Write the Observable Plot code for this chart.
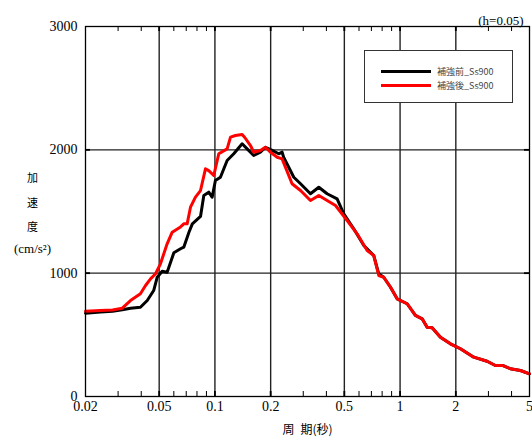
<!DOCTYPE html>
<html><head><meta charset="utf-8">
<script src="https://cdn.jsdelivr.net/npm/d3@7"></script>
<script src="https://cdn.jsdelivr.net/npm/@observablehq/plot@0.6"></script>
<style>
body{margin:0;background:#fff;}
#wrap{position:relative;width:532px;height:443px;}
#legend{position:absolute;left:364px;top:50px;width:149px;height:53px;box-sizing:border-box;border:1px solid #333;background:#fff;font-family:"Noto Sans CJK JP",sans-serif;font-size:9px;color:#444;}
.item{position:absolute;left:16px;height:12px;display:flex;align-items:center;white-space:nowrap;}
.sw{width:50px;height:3px;margin-right:6px;}
</style></head><body><div id="wrap"><div id="legend"></div></div>
<script>
const seriesNames = ["補強前_Ss900", "補強後_Ss900"];
const seriesColors = ["#000000", "#ff0000"];

const periodBefore = [0.02,0.0241,0.028,0.0316,0.035,0.0396,0.0431,0.0467,0.0488,0.0519,0.0552,0.06,0.0652,0.0679,0.0724,0.0755,0.0836,0.0871,0.0926,0.0966,0.1006,0.1071,0.1164,0.1264,0.1403,0.1493,0.162,0.176,0.1875,0.2038,0.221,0.2306,0.235,0.2667,0.29,0.328,0.364,0.4036,0.457,0.4966,0.562,0.637,0.721,0.767,0.816,0.888,0.964,1.092,1.21,1.316,1.4,1.49,1.652,1.87,2.118,2.5,2.95,3.27,3.6,3.94,4.47,5];
const accelBefore = [675,685,692,703,716,724,778,859,967,1015,1008,1165,1198,1211,1332,1400,1460,1630,1657,1616,1751,1778,1914,1968,2049,2008,1954,1981,2021,1995,1968,1981,1940,1778,1725,1644,1697,1644,1603,1481,1360,1224,1143,995,967,886,792,752,657,630,562,557,481,427,387,319,286,251,251,225,211,184];

const periodAfter = [0.02,0.0241,0.028,0.0316,0.035,0.0396,0.0422,0.0449,0.0478,0.0508,0.0552,0.0588,0.0652,0.0679,0.0708,0.0738,0.0785,0.0836,0.0889,0.0926,0.0986,0.1049,0.1164,0.1214,0.129,0.1403,0.145,0.1556,0.162,0.176,0.1875,0.1995,0.217,0.2306,0.261,0.29,0.328,0.364,0.4036,0.448,0.518,0.586,0.664,0.721,0.767,0.816,0.888,0.964,1.092,1.21,1.316,1.4,1.49,1.652,1.87,2.118,2.5,2.95,3.27,3.6,3.94,4.47,5];
const accelAfter = [692,697,702,716,778,833,900,954,995,1076,1238,1332,1375,1400,1400,1535,1616,1670,1846,1832,1792,1968,2008,2103,2116,2124,2100,2035,1981,1995,2021,1981,1940,1927,1725,1670,1589,1630,1589,1549,1427,1319,1184,1143,981,967,886,792,752,657,630,562,557,481,427,387,319,286,251,251,225,211,184];

const xTicks = [0.02,0.05,0.1,0.2,0.5,1,2,5];
const xTickLabels = ["0.02","0.05","0.1","0.2","0.5","1","2","5"];
const xMinor = [0.03,0.04,0.06,0.07,0.08,0.09,0.3,0.4,0.6,0.7,0.8,0.9,3,4];
const xGrid = [0.05,0.1,0.2,0.5,1,2];
const yTicks = [0,1000,2000,3000];
const yGrid = [1000,2000];
const xTitle = "周\u2002期(秒)";
const yTitleJa = "加\n速\n度";
const yTitleUnit = "(cm/s²)";
const note = "(h=0.05)";

const W = 532, H = 443, mL = 85, mR = 3, mT = 26, mB = 47;
const fw = W - mL - mR, fh = H - mT - mB;
const cjk = "Noto Sans CJK JP";
const serif = "Liberation Serif";

const before = periodBefore.map((p, i) => ({p, a: accelBefore[i]}));
const after = periodAfter.map((p, i) => ({p, a: accelAfter[i]}));
const xTickData = xTicks.map((v, i) => ({v, label: xTickLabels[i]}));

const chart = Plot.plot({
  width: W, height: H,
  marginLeft: mL, marginRight: mR, marginTop: mT, marginBottom: mB,
  x: {type: "log", domain: [0.02, 5], axis: null},
  y: {domain: [0, 3000]},
  style: {fontFamily: serif, fontSize: "14px", background: "#fff", color: "#000", overflow: "visible"},
  marks: [
    Plot.ruleX(xGrid, {stroke: "#222", strokeWidth: 1.4}),
    Plot.ruleY(yGrid, {stroke: "#222", strokeWidth: 1.4}),
    Plot.ruleX(xMinor, {stroke: "#000", strokeWidth: 1, insetTop: fh - 5}),
    Plot.ruleX(xMinor, {stroke: "#000", strokeWidth: 1, insetBottom: fh - 5}),
    Plot.ruleX(xGrid, {stroke: "#000", strokeWidth: 1.8, insetTop: fh - 5}),
    Plot.ruleX(xGrid, {stroke: "#000", strokeWidth: 1.8, insetBottom: fh - 5}),
    Plot.ruleY(yGrid, {stroke: "#000", strokeWidth: 1.8, insetRight: fw - 5}),
    Plot.ruleY(yGrid, {stroke: "#000", strokeWidth: 1.8, insetLeft: fw - 5}),
    Plot.line(before, {x: "p", y: "a", stroke: seriesColors[0], strokeWidth: 3}),
    Plot.line(after, {x: "p", y: "a", stroke: seriesColors[1], strokeWidth: 3}),
    Plot.frame({stroke: "#000", strokeWidth: 1.3}),
    Plot.text(xTickData, {x: "v", text: "label", frameAnchor: "bottom", dy: 14, fontSize: 14, fontFamily: serif}),
    Plot.axisY({ticks: yTicks, tickFormat: d => String(d), tickSize: 0, tickPadding: 8, fontSize: 14, fontFamily: serif, label: null}),
    Plot.text([xTitle], {frameAnchor: "bottom", dy: 37, fontFamily: cjk, fontSize: 12}),
    Plot.text([yTitleJa], {frameAnchor: "left", dx: -53, dy: -13, textAnchor: "middle", lineHeight: 2.27, fontFamily: cjk, fontSize: 11}),
    Plot.text([yTitleUnit], {frameAnchor: "left", dx: -53, dy: 37, textAnchor: "middle", fontSize: 13, fontFamily: serif}),
    Plot.text([note], {frameAnchor: "top-right", dx: -6, dy: -11, textAnchor: "end", fontSize: 13, fontFamily: serif})
  ]
});
const wrap = document.getElementById("wrap");
wrap.insertBefore(chart, wrap.firstChild);

const legend = document.getElementById("legend");
seriesNames.forEach((name, i) => {
  const item = document.createElement("div");
  item.className = "item";
  item.style.top = (14.7 + i * 13.3) + "px";
  const sw = document.createElement("span");
  sw.className = "sw";
  sw.style.background = seriesColors[i];
  const t = document.createElement("span");
  t.textContent = name;
  item.appendChild(sw);
  item.appendChild(t);
  legend.appendChild(item);
});
</script></body></html>
